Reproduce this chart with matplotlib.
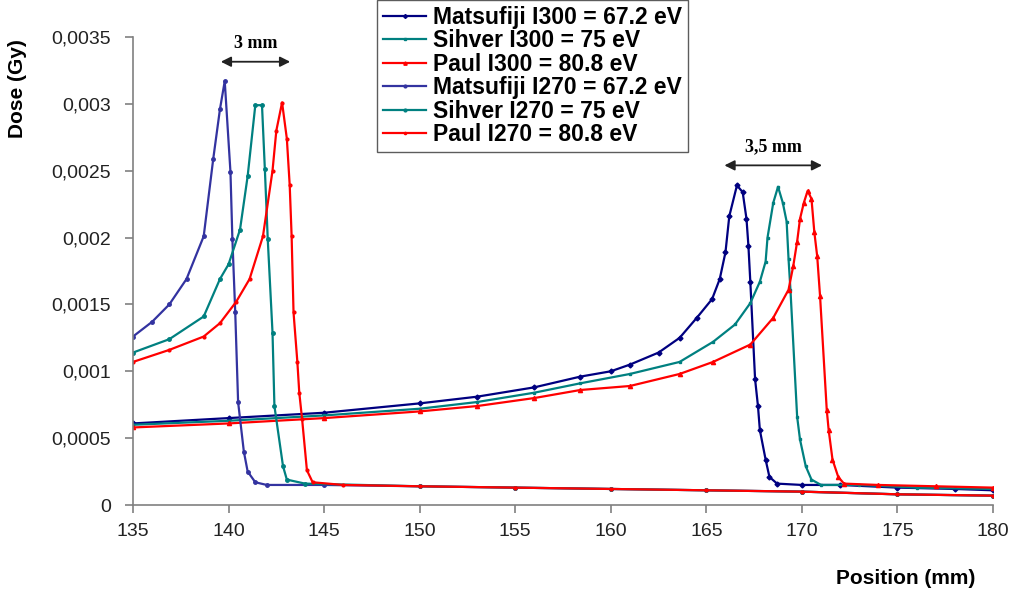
import matplotlib
matplotlib.use("Agg")
import matplotlib.pyplot as plt
from matplotlib.ticker import FuncFormatter, MultipleLocator

# Bragg curves (position in mm, dose in Gy)
mat300_x = [135, 140, 145, 150, 153, 156, 158.4, 160, 161, 162.5, 163.6, 164.5, 165.3, 165.7,
            166.0, 166.2, 166.6, 166.9, 167.1, 167.2, 167.3, 167.55, 167.7, 167.8, 168.1, 168.3,
            168.7, 170, 172, 175, 178, 180]
mat300_y = [0.00061, 0.00065, 0.00069, 0.00076, 0.00081, 0.00088, 0.00096, 0.001, 0.00105, 0.00114,
            0.00125, 0.0014, 0.00154, 0.00169, 0.00189, 0.00216, 0.00239, 0.00234, 0.00214, 0.00194,
            0.00167, 0.00094, 0.00074, 0.00056, 0.00034, 0.00021, 0.00016, 0.00015, 0.00015, 0.00013,
            0.00012, 0.00011]

sih300_x = [135, 140, 145, 150, 153, 156, 158.4, 161, 163.6, 165.35, 166.5, 167.3, 167.8, 168.1,
            168.2, 168.5, 168.75, 169.0, 169.2, 169.3, 169.4, 169.75, 169.9, 170.2, 170.5, 171, 173,
            176, 180]
sih300_y = [0.0006, 0.00063, 0.00067, 0.00072, 0.00077, 0.00084, 0.00091, 0.00098, 0.00107, 0.00122,
            0.00135, 0.00151, 0.00167, 0.00182, 0.002, 0.00226, 0.00238, 0.00226, 0.00212, 0.00184,
            0.00161, 0.00066, 0.00049, 0.00029, 0.00019, 0.00015, 0.00015, 0.00013, 0.00012]

pau300_x = [135, 140, 145, 150, 153, 156, 158.4, 161, 163.6, 165.35, 167.3, 168.5, 169.3, 169.55,
            169.75, 169.9, 170.1, 170.3, 170.5, 170.65, 170.8, 170.95, 171.3, 171.4, 171.6, 171.9,
            172.2, 174, 177, 180]
pau300_y = [0.00058, 0.00061, 0.00065, 0.0007, 0.00074, 0.0008, 0.00086, 0.00089, 0.00098, 0.00107,
            0.0012, 0.0014, 0.00161, 0.00179, 0.00197, 0.00214, 0.00226, 0.00235, 0.00229, 0.00204,
            0.00186, 0.00156, 0.00071, 0.00056, 0.00034, 0.00021, 0.00016, 0.00015, 0.00014, 0.00013]

mat270_x = [135, 136, 136.9, 137.8, 138.7, 139.2, 139.55, 139.8, 140.1, 140.2, 140.35, 140.5, 140.8,
            141.0, 141.4, 142, 145, 150, 155, 160, 165, 170, 175, 180]
mat270_y = [0.00126, 0.00137, 0.0015, 0.00169, 0.00201, 0.00259, 0.00296, 0.00317, 0.00249, 0.00199,
            0.00144, 0.00077, 0.0004, 0.00025, 0.00017, 0.00015, 0.00015, 0.00014, 0.00013, 0.00012,
            0.00011, 0.0001, 0.00008, 0.00007]

sih270_x = [135, 136.9, 138.7, 139.55, 140.0, 140.6, 141.0, 141.4, 141.75, 141.9, 142.05, 142.3,
            142.4, 142.85, 143.05, 144, 150, 155, 160, 165, 170, 175, 180]
sih270_y = [0.00114, 0.00124, 0.00141, 0.00169, 0.0018, 0.00206, 0.00246, 0.00299, 0.00299, 0.00251,
            0.00199, 0.00129, 0.00074, 0.00029, 0.00019, 0.00016, 0.00014, 0.00013, 0.00012, 0.00011,
            0.0001, 0.00008, 0.00007]

pau270_x = [135, 136.9, 138.7, 139.55, 140.4, 141.1, 141.8, 142.3, 142.5, 142.8, 143.05, 143.2, 143.3,
            143.4, 143.6, 143.7, 143.85, 144.1, 144.4, 146, 150, 155, 160, 165, 170, 175, 180]
pau270_y = [0.00107, 0.00116, 0.00126, 0.00136, 0.00152, 0.00169, 0.00201, 0.0025, 0.0028, 0.00301,
            0.00274, 0.00239, 0.00201, 0.00144, 0.00107, 0.00084, 0.00064, 0.00026, 0.00017, 0.00015,
            0.00014, 0.00013, 0.00012, 0.00011, 0.0001, 0.00008, 0.00007]

labels = ["Matsufiji I300 = 67.2 eV", "Sihver I300 = 75 eV", "Paul I300 = 80.8 eV",
          "Matsufiji I270 = 67.2 eV", "Sihver I270 = 75 eV", "Paul I270 = 80.8 eV"]

NAVY = "#000080"
SLATE = "#3333a0"
TEAL = "#008080"
RED = "#ff0000"

plt.rcParams["font.family"] = ["Liberation Sans", "DejaVu Sans"]

fig = plt.figure(figsize=(10.16, 5.91), dpi=100)
ax = fig.add_axes([0.1309, 0.1455, 0.8465, 0.7919])

series = [
    (mat300_x, mat300_y, NAVY, "D", 2.5),
    (sih300_x, sih300_y, TEAL, "s", 2.0),
    (pau300_x, pau300_y, RED, "^", 3.0),
    (mat270_x, mat270_y, SLATE, "o", 2.5),
    (sih270_x, sih270_y, TEAL, "o", 2.5),
    (pau270_x, pau270_y, RED, "o", 2.0),
]
for (xs, ys, col, mk, ms), lab in zip(series, labels):
    ax.plot(xs, ys, color=col, lw=1.6, marker=mk, ms=ms, label=lab)

ax.set_xlim(135, 180)
ax.set_ylim(0, 0.0035)
ax.xaxis.set_major_locator(MultipleLocator(5))
ax.yaxis.set_major_locator(MultipleLocator(0.0005))
ax.yaxis.set_major_formatter(FuncFormatter(
    lambda v, _: "0" if abs(v) < 1e-12 else f"{v:.4f}".rstrip("0").replace(".", ",")))

for side in ("top", "right"):
    ax.spines[side].set_visible(False)
for side in ("left", "bottom"):
    ax.spines[side].set_color("#808080")
    ax.spines[side].set_linewidth(1.2)
ax.tick_params(axis="both", colors="#808080", labelcolor="#222222", labelsize=14,
               length=6, width=1.2, direction="out")
ax.tick_params(axis="y", pad=10)
ax.tick_params(axis="x", pad=7)

# range annotations
ax.annotate("", xy=(139.45, 0.003315), xytext=(143.37, 0.003315),
            arrowprops=dict(arrowstyle="<|-|>", color="#222222", lw=1.3, mutation_scale=15))
ax.text(141.4, 0.00345, "3 mm", ha="center", va="center", fontsize=13,
        fontweight="bold", family="Liberation Serif")
ax.annotate("", xy=(165.8, 0.00254), xytext=(171.2, 0.00254),
            arrowprops=dict(arrowstyle="<|-|>", color="#222222", lw=1.3, mutation_scale=15))
ax.text(168.5, 0.00268, "3,5 mm", ha="center", va="center", fontsize=13,
        fontweight="bold", family="Liberation Serif")

leg = ax.legend(loc="upper left", bbox_to_anchor=(377 / 1016, 1.0),
                bbox_transform=fig.transFigure, frameon=True, fancybox=False,
                prop=dict(weight="bold", size=16.5), labelspacing=0.02, handlelength=1.9,
                handletextpad=0.3, borderpad=0.25, borderaxespad=0.0, markerscale=0.8)
leg.get_frame().set_edgecolor("#333333")
leg.get_frame().set_linewidth(1.0)

fig.text(18 / 1016, 1 - 89 / 591, "Dose (Gy)", rotation=90, ha="center", va="center",
         fontsize=15, fontweight="bold")
fig.text(906 / 1016, 1 - 578 / 591, "Position (mm)", ha="center", va="center",
         fontsize=15, fontweight="bold")

fig.savefig("out.png", dpi=100)
